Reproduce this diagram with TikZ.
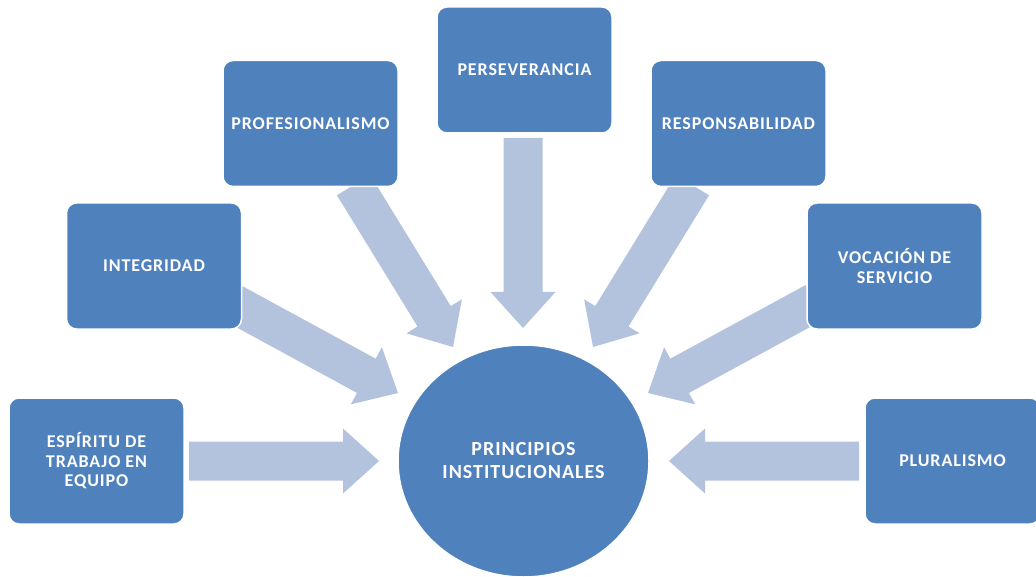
\documentclass[tikz,border=0pt]{standalone}
\usepackage{fontspec}
\setmainfont{Carlito}[LetterSpace=5]
\usetikzlibrary{calc,shapes.geometric,backgrounds}
\definecolor{boxblue}{RGB}{79,129,189}
\definecolor{arrowblue}{RGB}{179,194,221}
\tikzset{
  valuebox/.style={rectangle, rounded corners=10pt, fill=boxblue, draw=white, line width=1.5pt,
    minimum width=175pt, minimum height=126pt, inner sep=2pt, align=center, text=white,
    font=\bfseries\fontsize{18}{19.5}\selectfont},
  hub/.style={ellipse, fill=boxblue, draw=white, line width=1.5pt, minimum width=251pt,
    minimum height=232pt, inner sep=0pt, align=center, text=white,
    font=\bfseries\fontsize{20}{23}\selectfont},
  arrowfill/.style={fill=arrowblue}
}
\newcommand\blockarr[2]{%
  \fill[arrowfill] (#2)
   -- ($(#2)!36pt!(#1)!32.5pt!90:(#2)$)
   -- ($(#2)!36pt!(#1)!19.5pt!90:(#2)$)
   -- ($(#1)!19.5pt!90:(#2)$)
   -- ($(#1)!19.5pt!-90:(#2)$)
   -- ($(#2)!36pt!(#1)!19.5pt!-90:(#2)$)
   -- ($(#2)!36pt!(#1)!32.5pt!-90:(#2)$)
   -- cycle;}
\begin{document}
\begin{tikzpicture}[x=1pt,y=-1pt]
\useasboundingbox (0,0) rectangle (1036,577);
\coordinate (cc) at (523,461);
\node[hub] (c) at (523.5,461) {PRINCIPIOS\\INSTITUCIONALES};
\node[valuebox] (b1) at (96.5,461) {ESPÍRITU DE\\TRABAJO EN\\EQUIPO};
\node[valuebox] (b2) at (154,266) {INTEGRIDAD};
\node[valuebox] (b3) at (310.5,123.5) {PROFESIONALISMO};
\node[valuebox] (b4) at (524.5,70) {PERSEVERANCIA};
\node[valuebox] (b5) at (738.5,123.5) {RESPONSABILIDAD};
\node[valuebox] (b6) at (894.5,266) {VOCACIÓN DE\\SERVICIO};
\node[valuebox] (b7) at (952.5,461) {PLURALISMO};
\coordinate (t1) at (379,461);
\coordinate (t2) at (398,393);
\coordinate (t3) at (453,347);
\coordinate (t4) at (523,328);
\coordinate (t5) at (593,347);
\coordinate (t6) at (648,393);
\coordinate (t7) at (669,461);
\foreach \i in {1,...,7}{\coordinate (s\i) at ($(t\i)!-190pt!(cc)$);}
\begin{scope}[on background layer]
\fill[white] (0,0) rectangle (1036,577);
\foreach \i in {1,...,7}{\blockarr{s\i}{t\i}}
\end{scope}
\end{tikzpicture}
\end{document}
